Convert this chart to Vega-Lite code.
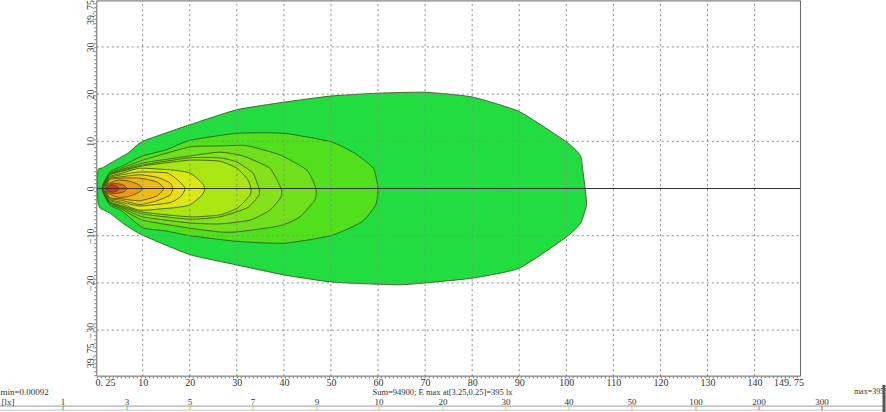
{
"$schema":"https://vega.github.io/schema/vega-lite/v6.json",
"width":886,"height":412,"autosize":{"type":"none"},"padding":0,"background":"white",
"view":{"stroke":null},
"config":{"axis":{"labelFont":"Liberation Serif","labelFontSize":10,"labelColor":"#333","title":null,"grid":false,"ticks":false,"domain":false}},
"datasets":{
"contours":[
{"level":1,"seq":1,"x":0.4,"y":0},{"level":1,"seq":2,"x":0.5,"y":4},{"level":1,"seq":3,"x":1.5,"y":4.4},{"level":1,"seq":4,"x":3,"y":5.3},{"level":1,"seq":5,"x":7,"y":7.6},{"level":1,"seq":6,"x":10,"y":10},{"level":1,"seq":7,"x":20,"y":13.5},{"level":1,"seq":8,"x":30,"y":16.7},{"level":1,"seq":9,"x":40,"y":18.3},{"level":1,"seq":10,"x":50,"y":19.6},{"level":1,"seq":11,"x":60,"y":20.2},{"level":1,"seq":12,"x":70,"y":20.4},{"level":1,"seq":13,"x":80,"y":19.4},{"level":1,"seq":14,"x":90,"y":16.3},{"level":1,"seq":15,"x":100,"y":9.9},{"level":1,"seq":16,"x":103,"y":7},{"level":1,"seq":17,"x":103.5,"y":3.9},{"level":1,"seq":18,"x":104,"y":0},{"level":1,"seq":19,"x":104.3,"y":-3.5},{"level":1,"seq":20,"x":103,"y":-7.4},{"level":1,"seq":21,"x":100,"y":-10.3},{"level":1,"seq":22,"x":90,"y":-16.9},{"level":1,"seq":23,"x":80,"y":-19},{"level":1,"seq":24,"x":70,"y":-20},{"level":1,"seq":25,"x":65,"y":-20.4},{"level":1,"seq":26,"x":60,"y":-20.3},{"level":1,"seq":27,"x":50,"y":-19.8},{"level":1,"seq":28,"x":40,"y":-18.3},{"level":1,"seq":29,"x":30,"y":-16.2},{"level":1,"seq":30,"x":20,"y":-14},{"level":1,"seq":31,"x":10,"y":-9.9},{"level":1,"seq":32,"x":6,"y":-7.5},{"level":1,"seq":33,"x":3,"y":-5.2},{"level":1,"seq":34,"x":1,"y":-4.2},{"level":1,"seq":35,"x":0.5,"y":-3},
{"level":3,"seq":1,"x":1.3,"y":0},{"level":3,"seq":2,"x":3,"y":3.5},{"level":3,"seq":3,"x":5.5,"y":4.7},{"level":3,"seq":4,"x":10,"y":6.9},{"level":3,"seq":5,"x":15,"y":8.2},{"level":3,"seq":6,"x":20,"y":10.2},{"level":3,"seq":7,"x":30,"y":11.7},{"level":3,"seq":8,"x":40,"y":11.7},{"level":3,"seq":9,"x":50,"y":9.9},{"level":3,"seq":10,"x":55,"y":7.5},{"level":3,"seq":11,"x":59,"y":4.3},{"level":3,"seq":12,"x":60,"y":0},{"level":3,"seq":13,"x":59.5,"y":-3.5},{"level":3,"seq":14,"x":56.5,"y":-7.1},{"level":3,"seq":15,"x":50,"y":-10},{"level":3,"seq":16,"x":40,"y":-11.6},{"level":3,"seq":17,"x":30,"y":-11.2},{"level":3,"seq":18,"x":20,"y":-10},{"level":3,"seq":19,"x":15,"y":-9},{"level":3,"seq":20,"x":10,"y":-8.3},{"level":3,"seq":21,"x":5.5,"y":-4.7},{"level":3,"seq":22,"x":3,"y":-3.5},
{"level":5,"seq":1,"x":1.4,"y":0},{"level":5,"seq":2,"x":3,"y":3.2},{"level":5,"seq":3,"x":5.5,"y":4.3},{"level":5,"seq":4,"x":10,"y":6},{"level":5,"seq":5,"x":20,"y":8.8},{"level":5,"seq":6,"x":26.4,"y":9},{"level":5,"seq":7,"x":32,"y":9.1},{"level":5,"seq":8,"x":39.2,"y":7.1},{"level":5,"seq":9,"x":44.9,"y":3.9},{"level":5,"seq":10,"x":46.8,"y":0},{"level":5,"seq":11,"x":46.6,"y":-2.4},{"level":5,"seq":12,"x":43.4,"y":-6},{"level":5,"seq":13,"x":39.2,"y":-7.9},{"level":5,"seq":14,"x":30,"y":-9.2},{"level":5,"seq":15,"x":26.4,"y":-9.2},{"level":5,"seq":16,"x":20,"y":-8.4},{"level":5,"seq":17,"x":10,"y":-6.7},{"level":5,"seq":18,"x":5.5,"y":-4.3},{"level":5,"seq":19,"x":3,"y":-3.2},
{"level":7,"seq":1,"x":1.5,"y":0},{"level":7,"seq":2,"x":3,"y":3},{"level":7,"seq":3,"x":5.5,"y":4},{"level":7,"seq":4,"x":10,"y":5.4},{"level":7,"seq":5,"x":20,"y":6.9},{"level":7,"seq":6,"x":26.4,"y":7.7},{"level":7,"seq":7,"x":31.3,"y":6.9},{"level":7,"seq":8,"x":37,"y":4.3},{"level":7,"seq":9,"x":39.4,"y":0},{"level":7,"seq":10,"x":39.4,"y":-1.8},{"level":7,"seq":11,"x":37,"y":-4.6},{"level":7,"seq":12,"x":32.8,"y":-6.7},{"level":7,"seq":13,"x":26.4,"y":-7.5},{"level":7,"seq":14,"x":20,"y":-7.3},{"level":7,"seq":15,"x":10,"y":-6},{"level":7,"seq":16,"x":5.5,"y":-4},{"level":7,"seq":17,"x":3,"y":-3},
{"level":9,"seq":1,"x":1.6,"y":0},{"level":9,"seq":2,"x":3,"y":2.9},{"level":9,"seq":3,"x":5.5,"y":3.8},{"level":9,"seq":4,"x":10,"y":5},{"level":9,"seq":5,"x":20,"y":6.5},{"level":9,"seq":6,"x":26.4,"y":6.5},{"level":9,"seq":7,"x":30,"y":5.6},{"level":9,"seq":8,"x":33.4,"y":3.3},{"level":9,"seq":9,"x":34.7,"y":0},{"level":9,"seq":10,"x":34.7,"y":-1.4},{"level":9,"seq":11,"x":32.2,"y":-4.1},{"level":9,"seq":12,"x":26.4,"y":-6},{"level":9,"seq":13,"x":20,"y":-6.5},{"level":9,"seq":14,"x":10,"y":-5.4},{"level":9,"seq":15,"x":5.5,"y":-3.8},{"level":9,"seq":16,"x":3,"y":-2.9},
{"level":10,"seq":1,"x":1.7,"y":0},{"level":10,"seq":2,"x":3,"y":2.8},{"level":10,"seq":3,"x":5.5,"y":3.6},{"level":10,"seq":4,"x":10,"y":4.8},{"level":10,"seq":5,"x":20,"y":6},{"level":10,"seq":6,"x":26.4,"y":5.8},{"level":10,"seq":7,"x":30,"y":4.3},{"level":10,"seq":8,"x":32.4,"y":1.8},{"level":10,"seq":9,"x":33,"y":0},{"level":10,"seq":10,"x":32.8,"y":-1.4},{"level":10,"seq":11,"x":30.2,"y":-4.1},{"level":10,"seq":12,"x":26.4,"y":-5.6},{"level":10,"seq":13,"x":20,"y":-6},{"level":10,"seq":14,"x":10,"y":-5},{"level":10,"seq":15,"x":5.5,"y":-3.6},{"level":10,"seq":16,"x":3,"y":-2.8},
{"level":20,"seq":1,"x":1.8,"y":0},{"level":20,"seq":2,"x":3,"y":2.5},{"level":20,"seq":3,"x":5.5,"y":3.2},{"level":20,"seq":4,"x":9.4,"y":4.3},{"level":20,"seq":5,"x":16.4,"y":3.9},{"level":20,"seq":6,"x":20,"y":3.3},{"level":20,"seq":7,"x":22.6,"y":1.2},{"level":20,"seq":8,"x":23.2,"y":0},{"level":20,"seq":9,"x":22.6,"y":-1.4},{"level":20,"seq":10,"x":20,"y":-3.5},{"level":20,"seq":11,"x":16.4,"y":-4.1},{"level":20,"seq":12,"x":9.4,"y":-4.6},{"level":20,"seq":13,"x":5.5,"y":-3.2},{"level":20,"seq":14,"x":3,"y":-2.5},
{"level":30,"seq":1,"x":1.9,"y":0},{"level":30,"seq":2,"x":3,"y":2.3},{"level":30,"seq":3,"x":5.5,"y":2.9},{"level":30,"seq":4,"x":9.4,"y":3.5},{"level":30,"seq":5,"x":15.2,"y":3.3},{"level":30,"seq":6,"x":17.9,"y":1.4},{"level":30,"seq":7,"x":19,"y":0},{"level":30,"seq":8,"x":18.2,"y":-1.6},{"level":30,"seq":9,"x":15.8,"y":-3},{"level":30,"seq":10,"x":9.4,"y":-3.7},{"level":30,"seq":11,"x":5.5,"y":-2.9},{"level":30,"seq":12,"x":3,"y":-2.3},
{"level":40,"seq":1,"x":2,"y":0},{"level":40,"seq":2,"x":3,"y":2.1},{"level":40,"seq":3,"x":5.5,"y":2.5},{"level":40,"seq":4,"x":9.4,"y":2.9},{"level":40,"seq":5,"x":13,"y":2.4},{"level":40,"seq":6,"x":15.8,"y":1.2},{"level":40,"seq":7,"x":16.4,"y":0},{"level":40,"seq":8,"x":15.8,"y":-1.4},{"level":40,"seq":9,"x":13,"y":-2.6},{"level":40,"seq":10,"x":9.4,"y":-3.4},{"level":40,"seq":11,"x":5.5,"y":-2.5},{"level":40,"seq":12,"x":3,"y":-2.1},
{"level":50,"seq":1,"x":2.1,"y":0},{"level":50,"seq":2,"x":3,"y":1.9},{"level":50,"seq":3,"x":5.5,"y":2.2},{"level":50,"seq":4,"x":9.4,"y":2.2},{"level":50,"seq":5,"x":13,"y":1.4},{"level":50,"seq":6,"x":14.5,"y":0},{"level":50,"seq":7,"x":13,"y":-1.6},{"level":50,"seq":8,"x":9.4,"y":-2.6},{"level":50,"seq":9,"x":5.5,"y":-2.2},{"level":50,"seq":10,"x":3,"y":-1.9},
{"level":100,"seq":1,"x":1.5,"y":0},{"level":100,"seq":2,"x":3,"y":1.2},{"level":100,"seq":3,"x":5,"y":1.8},{"level":100,"seq":4,"x":7,"y":1.6},{"level":100,"seq":5,"x":9,"y":0.9},{"level":100,"seq":6,"x":10,"y":0},{"level":100,"seq":7,"x":9,"y":-0.9},{"level":100,"seq":8,"x":7,"y":-1.7},{"level":100,"seq":9,"x":5,"y":-1.9},{"level":100,"seq":10,"x":3,"y":-1.2},
{"level":200,"seq":1,"x":1.8,"y":0},{"level":200,"seq":2,"x":3,"y":0.9},{"level":200,"seq":3,"x":4.1,"y":1.1},{"level":200,"seq":4,"x":5.8,"y":0.8},{"level":200,"seq":5,"x":6.7,"y":0},{"level":200,"seq":6,"x":5.8,"y":-0.8},{"level":200,"seq":7,"x":4.1,"y":-1.1},{"level":200,"seq":8,"x":3,"y":-0.9},
{"level":300,"seq":1,"x":2,"y":0},{"level":300,"seq":2,"x":3,"y":0.6},{"level":300,"seq":3,"x":3.6,"y":0.8},{"level":300,"seq":4,"x":4.5,"y":0.5},{"level":300,"seq":5,"x":5,"y":0},{"level":300,"seq":6,"x":4.5,"y":-0.5},{"level":300,"seq":7,"x":3.6,"y":-0.8},{"level":300,"seq":8,"x":3,"y":-0.6}
],
"vgrid":[{"x":10},{"x":20},{"x":30},{"x":40},{"x":50},{"x":60},{"x":70},{"x":80},{"x":90},{"x":100},{"x":110},{"x":120},{"x":130},{"x":140}],
"hgrid":[{"y":30},{"y":20},{"y":10},{"y":-10},{"y":-20},{"y":-30}],
"scale":[
{"label":"1","x":-6.93,"tick":"#22c060"},{"label":"3","x":6.67,"tick":"#70d040"},{"label":"5","x":20.05,"tick":"#a0d840"},{"label":"7","x":33.43,"tick":"#b8dc40"},{"label":"9","x":47.03,"tick":"#c8dc40"},{"label":"10","x":60.2,"tick":"#d0dc40"},{"label":"20","x":73.8,"tick":"#e0dc40"},{"label":"30","x":87.2,"tick":"#e8d840"},{"label":"40","x":100.57,"tick":"#e8c840"},{"label":"50","x":113.95,"tick":"#d8c060"},{"label":"100","x":127.55,"tick":"#b0a080"},{"label":"200","x":140.93,"tick":"#e86050"},{"label":"300","x":154.32,"tick":"#e04060"}
]
},
"layer":[
{"data":{"name":"contours"},
 "mark":{"type":"line","interpolate":"cardinal-closed","tension":0.5,"stroke":"#2c4a14","strokeWidth":0.8},
 "encoding":{
  "x":{"field":"x","type":"quantitative","scale":{"domain":[-20.315,167.92],"nice":false,"zero":false},
   "axis":{"orient":"bottom","offset":-36,"values":[2,10,20,30,40,50,60,70,80,90,100,110,120,130,140,147.2],"labelExpr":"datum.value==2?'0. 25':datum.value==147.2?'149. 75':datum.label","labelPadding":1,"format":"d","labelOverlap":false,"labelFlush":false}},
  "y":{"field":"y","type":"quantitative","scale":{"domain":[-47.35,39.94],"nice":false,"zero":false},
   "axis":{"orient":"left","offset":-97,"values":[-35.3,-30,-20,-10,0,10,20,30,37.4],"labelExpr":"datum.value==37.4||datum.value==-35.3?'39. 75':format(datum.value,'d')","labelAngle":-90,"labelAlign":"center","labelBaseline":"bottom","labelPadding":2,"labelOverlap":false,"labelFlush":false}},
  "order":{"field":"seq","type":"quantitative"},
  "detail":{"field":"level","type":"ordinal"},
  "fill":{"field":"level","type":"ordinal","legend":null,"scale":{"domain":[1,3,5,7,9,10,20,30,40,50,100,200,300],"range":["#22dd40","#50e01c","#70e01a","#86e218","#98e412","#aae612","#dce814","#eedc14","#f0cc14","#f0b814","#f09a14","#ee6410","#e0301c"]}}
 }},
{"data":{"name":"vgrid"},"mark":{"type":"rule","color":"#8a8a8a","strokeDash":[2,3],"strokeWidth":1},
 "encoding":{"x":{"field":"x","type":"quantitative"},"y":{"datum":-39.75,"type":"quantitative"},"y2":{"datum":39.75}}},
{"data":{"name":"hgrid"},"mark":{"type":"rule","color":"#8a8a8a","strokeDash":[2,3],"strokeWidth":1},
 "encoding":{"y":{"field":"y","type":"quantitative"},"x":{"datum":0.25,"type":"quantitative"},"x2":{"datum":149.75}}},
{"data":{"values":[{"y":0,"c":"axis"}]},"mark":{"type":"rule","color":"#333","strokeWidth":1},
 "encoding":{"y":{"field":"y","type":"quantitative"},"x":{"datum":0.25,"type":"quantitative"},"x2":{"datum":149.75}}},
{"data":{"values":[{"y":39.75},{"y":-39.75}]},"mark":{"type":"rule","color":"#666","strokeWidth":1},
 "encoding":{"y":{"field":"y","type":"quantitative"},"x":{"datum":0.25,"type":"quantitative"},"x2":{"datum":149.75}}},
{"data":{"values":[{"x":0.25},{"x":149.75}]},"mark":{"type":"rule","color":"#666","strokeWidth":1},
 "encoding":{"x":{"field":"x","type":"quantitative"},"y":{"datum":-39.75,"type":"quantitative"},"y2":{"datum":39.75}}},
{"data":{"values":[{"y":-40.05}]},"mark":{"type":"rule","color":"#666","strokeDash":[1,3],"strokeWidth":1.5},
 "encoding":{"y":{"field":"y","type":"quantitative"},"x":{"datum":0.25,"type":"quantitative"},"x2":{"datum":149.75}}},
{"data":{"values":[{"x":-0.1}]},"mark":{"type":"rule","color":"#666","strokeDash":[1,3],"strokeWidth":1.5},
 "encoding":{"x":{"field":"x","type":"quantitative"},"y":{"datum":-39.75,"type":"quantitative"},"y2":{"datum":39.75}}},
{"data":{"values":[{"y":-46.1,"c":"#9a9a9a"},{"y":-46.95,"c":"#c4c4c4"}]},"mark":{"type":"rule","strokeWidth":1},
 "encoding":{"y":{"field":"y","type":"quantitative"},"x":{"datum":-20.315,"type":"quantitative"},"x2":{"datum":167.92},"color":{"field":"c","type":"nominal","scale":null}}},
{"data":{"name":"scale"},"mark":{"type":"rule","strokeWidth":1},
 "encoding":{"x":{"field":"x","type":"quantitative"},"y":{"datum":-46.1,"type":"quantitative"},"y2":{"datum":-47},"color":{"field":"tick","type":"nominal","scale":null}}},
{"data":{"name":"scale"},"mark":{"type":"text","font":"Liberation Serif","fontSize":9,"color":"#333","align":"center","baseline":"middle"},
 "encoding":{"x":{"field":"x","type":"quantitative"},"y":{"datum":-45.15,"type":"quantitative"},"text":{"field":"label","type":"nominal"}}},
{"data":{"values":[{"t":"min=0.00092","x":-20.2,"y":-43.1},{"t":"[lx]","x":-20.0,"y":-45.15}]},
 "mark":{"type":"text","font":"Liberation Serif","fontSize":9,"color":"#333","align":"left","baseline":"middle"},
 "encoding":{"x":{"field":"x","type":"quantitative"},"y":{"field":"y","type":"quantitative"},"text":{"field":"t","type":"nominal"}}},
{"data":{"values":[{"t":"max=395","x":161.1,"y":-43.1}]},
 "mark":{"type":"text","font":"Liberation Serif","fontSize":8,"color":"#333","align":"left","baseline":"middle"},
 "encoding":{"x":{"field":"x","type":"quantitative"},"y":{"field":"y","type":"quantitative"},"text":{"field":"t","type":"nominal"}}},
{"data":{"values":[{"t":"Sum=94900; E max at[3.25,0.25]=395 lx","x":73.7,"y":-43.1}]},
 "mark":{"type":"text","font":"Liberation Serif","fontSize":8.5,"color":"#333","align":"center","baseline":"middle"},
 "encoding":{"x":{"field":"x","type":"quantitative"},"y":{"field":"y","type":"quantitative"},"text":{"field":"t","type":"nominal"}}},
{"data":{"values":[{"x":167.5}]},"mark":{"type":"rule","color":"#555","strokeWidth":3},
 "encoding":{"x":{"field":"x","type":"quantitative"},"y":{"datum":-41.6,"type":"quantitative"},"y2":{"datum":-47.35}}}
]
}
